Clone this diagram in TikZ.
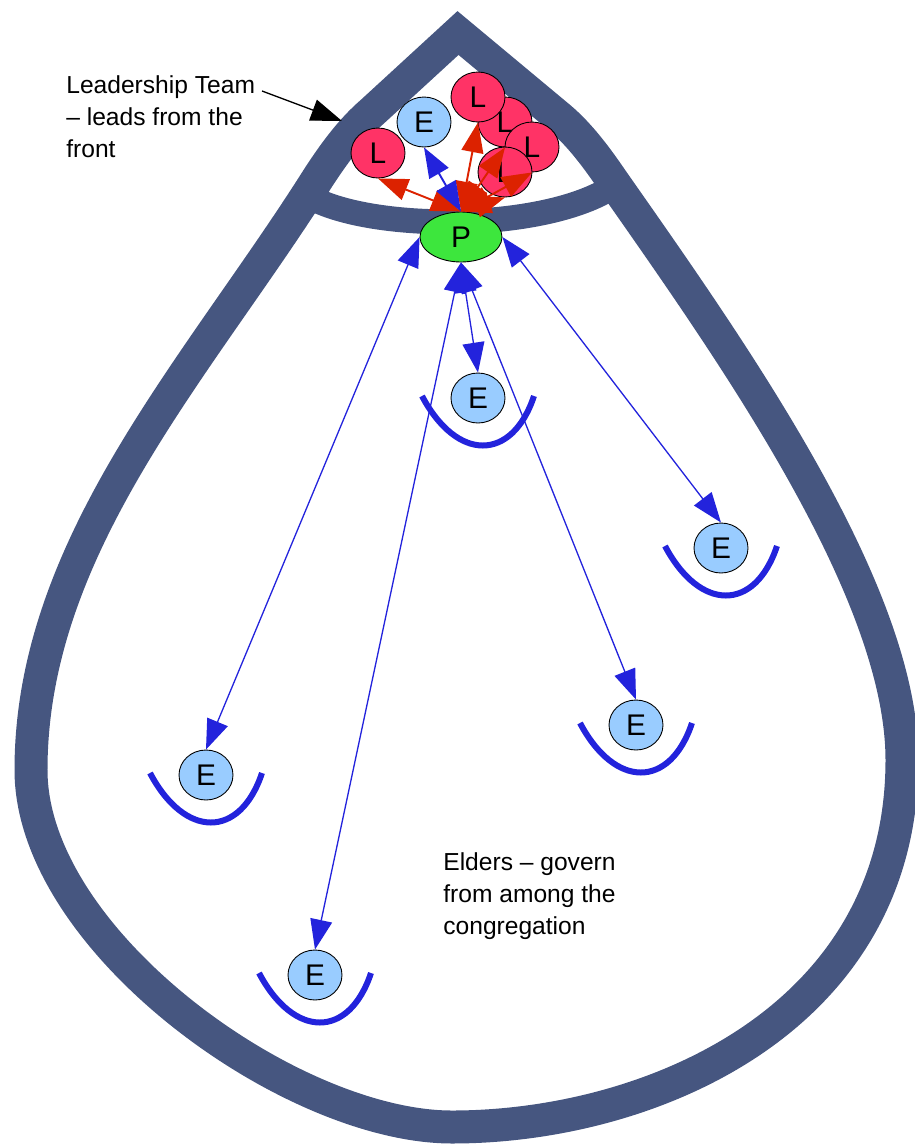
\documentclass[tikz,border=0pt]{standalone}
\usepackage{fontspec}
\setmainfont{Liberation Sans}
\usetikzlibrary{arrows.meta,shapes.geometric}

\definecolor{band}{RGB}{70,86,128}
\definecolor{eblue}{RGB}{153,204,255}
\definecolor{lred}{RGB}{255,51,102}
\definecolor{pgreen}{RGB}{61,230,61}
\definecolor{ablue}{RGB}{35,35,220}
\definecolor{ared}{RGB}{220,34,0}

\begin{document}
\begin{tikzpicture}[x=0.02cm,y=-0.02cm,
  nd/.style={ellipse,draw=black,line width=0.5pt,inner sep=0pt,
    minimum width=1.08cm,minimum height=1cm,font=\fontsize{17}{17}\selectfont},
  eld/.style={nd,fill=eblue},
  ldr/.style={nd,fill=lred},
  pas/.style={nd,fill=pgreen,minimum width=1.64cm},
  ar/.style={{Triangle[length=0.6cm,width=0.44cm]}-{Triangle[length=0.6cm,width=0.44cm]},
    color=ablue,line width=0.75pt},
  rar/.style={ar,color=ared,line width=1.1pt},
  cup/.style={draw=ablue,line width=0.12cm},
  txt/.style={align=left,inner sep=0pt,anchor=north west,
    font=\fontsize{14}{18.2}\selectfont}]

 \useasboundingbox (0,0) rectangle (914,1144);

 % ---- the drop ----
 \draw[band,line width=0.66cm,line join=miter]
   (458,33) -- (372,112) .. controls (350,131) and (333,155) .. (318,178)
   .. controls (198,368) and (31,545) .. (31,770)
   .. controls (31,940) and (290,1127) .. (452,1127)
   .. controls (650,1127) and (902,1020) .. (902,760)
   .. controls (902,590) and (731,350) .. (612,180)
   .. controls (597,158) and (580,135) .. (560,118) -- cycle;
 \draw[band,line width=0.5cm] (308,196) .. controls (370,232) and (545,232) .. (614,186);

 % ---- leadership team ----
 \node[ldr] (l2) at (505,122) {L};
 \node[ldr] (l1) at (478,97) {L};
 \node[ldr] (l3) at (532,147) {L};
 \node[ldr] (l4) at (505,172) {L};
 \node[eld] (et) at (424,122) {E};
 \node[ldr] (l0) at (378,153) {L};
 \node[pas] (p) at (461,237) {P};

 % ---- elders ----
 \node[eld] (e1) at (478,398) {E};
 \node[eld] (e2) at (721,548) {E};
 \node[eld] (e3) at (636,725) {E};
 \node[eld] (e4) at (206,775) {E};
 \node[eld] (e5) at (315,975) {E};
 \foreach \n in {e1,e2,e3,e4,e5}
   \draw[cup] ([shift={(-56,-2)}]\n.center) .. controls +(35,66) and +(-22,66) .. ([shift={(56,-2)}]\n.center);

 % ---- links ----
 \foreach \n in {l0,l1,l2,l3,l4}
   \draw[rar] (p.north) -- (\n.south);
 \draw[ar,line width=1.1pt] (p.north) -- (et.south);
 \draw[ar] (p.west) -- (e4.north);
 \draw[ar] (p.east) -- (e2.north);
 \foreach \n in {e1,e3,e5}
   \draw[ar] (p.south) -- (\n.north);

 % ---- labels ----
 \node[txt] (lead) at (66,75) {Leadership Team\\– leads from the\\front};
 \coordinate (ls) at (262,91);
 \coordinate (lt) at (342,121);
 \draw[-{Triangle[length=0.62cm,width=0.44cm]},line width=0.75pt] (ls) -- (lt);
 \node[txt] (gov) at (443,852) {Elders – govern\\from among the\\congregation};
\end{tikzpicture}
\end{document}
